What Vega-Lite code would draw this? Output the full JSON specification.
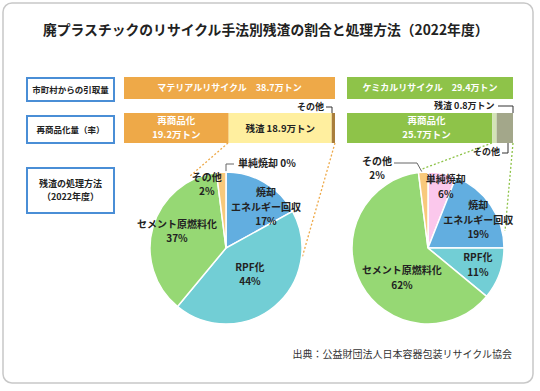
{
  "$schema": "https://vega.github.io/schema/vega-lite/v6.json",
  "width": 530,
  "height": 380,
  "autosize": {"type": "none"},
  "padding": {"left": 3, "top": 3, "right": 7, "bottom": 8},
  "background": "#ffffff",
  "title": {"text": "廃プラスチックのリサイクル手法別残渣の割合と処理方法（2022年度）", "anchor": "start", "frame": "group", "orient": "top", "offset": -35, "dx": 40, "fontSize": 13.8, "fontWeight": "bold", "color": "#222222", "font": "Noto Sans CJK JP"},
  "config": {
    "font": "Noto Sans CJK JP",
    "view": {"stroke": "#c8c8c8", "strokeWidth": 1.5, "cornerRadius": 9, "fill": "#ffffff"}
  },
  "resolve": {"scale": {"x": "independent", "y": "independent", "color": "independent", "theta": "independent"}},
  "layer": [
    {
      "data": {"values": [{"label": "市町村からの引取量"}]},
      "encoding": {
        "x": {"field": "label", "type": "nominal", "scale": {"range": [24, 111], "paddingInner": 0, "paddingOuter": 0}, "axis": null},
        "y": {"field": "label", "type": "nominal", "scale": {"range": [75, 98], "paddingInner": 0, "paddingOuter": 0}, "axis": null}
      },
      "layer": [
        {"mark": {"type": "rect", "fill": "#ffffff", "stroke": "#4a8ed6", "strokeWidth": 2}},
        {"mark": {"type": "text", "fontSize": 8.5, "fontWeight": "bold", "color": "#222222"}, "encoding": {"text": {"field": "label"}}}
      ]
    },
    {
      "data": {"values": [{"label": "再商品化量（率）"}]},
      "encoding": {
        "x": {"field": "label", "type": "nominal", "scale": {"range": [24, 111], "paddingInner": 0, "paddingOuter": 0}, "axis": null},
        "y": {"field": "label", "type": "nominal", "scale": {"range": [113, 140], "paddingInner": 0, "paddingOuter": 0}, "axis": null}
      },
      "layer": [
        {"mark": {"type": "rect", "fill": "#ffffff", "stroke": "#4a8ed6", "strokeWidth": 2}},
        {"mark": {"type": "text", "fontSize": 8.5, "fontWeight": "bold", "color": "#222222"}, "encoding": {"text": {"field": "label"}}}
      ]
    },
    {
      "data": {"values": [{"label": "残渣の処理方法\n（2022年度）"}]},
      "encoding": {
        "x": {"field": "label", "type": "nominal", "scale": {"range": [24, 111], "paddingInner": 0, "paddingOuter": 0}, "axis": null},
        "y": {"field": "label", "type": "nominal", "scale": {"range": [165, 210], "paddingInner": 0, "paddingOuter": 0}, "axis": null}
      },
      "layer": [
        {"mark": {"type": "rect", "fill": "#ffffff", "stroke": "#4a8ed6", "strokeWidth": 2}},
        {"mark": {"type": "text", "fontSize": 9, "fontWeight": "bold", "color": "#222222", "lineBreak": "\n", "lineHeight": 13.5, "dy": -6.75}, "encoding": {"text": {"field": "label"}}}
      ]
    },
    {
      "data": {"values": [{"method": "マテリアルリサイクル", "row": "市町村からの引取量", "amount": 38.7, "label": "マテリアルリサイクル　38.7万トン"}]},
      "transform": [{"stack": "amount", "groupby": ["row"], "as": ["a0", "a1"]}],
      "encoding": {
        "y": {"field": "row", "type": "nominal", "scale": {"range": [74, 96], "paddingInner": 0, "paddingOuter": 0}, "axis": null},
        "x": {"field": "a0", "type": "quantitative", "scale": {"domain": [0, 38.7], "range": [121, 332]}, "axis": null}
      },
      "layer": [
        {"mark": {"type": "bar", "color": "#eea948"}, "encoding": {"x2": {"field": "a1"}}},
        {
          "transform": [{"fold": ["a0", "a1"], "as": ["edge", "pos"]}, {"aggregate": [{"op": "mean", "field": "pos", "as": "mid"}], "groupby": ["row", "label"]}],
          "mark": {"type": "text", "color": "#ffffff", "fontSize": 9, "fontWeight": "bold"},
          "encoding": {"x": {"field": "mid", "type": "quantitative"}, "text": {"field": "label"}}
        }
      ]
    },
    {
      "data": {"values": [{"method": "ケミカルリサイクル", "row": "市町村からの引取量", "amount": 29.4, "label": "ケミカルリサイクル　29.4万トン"}]},
      "transform": [{"stack": "amount", "groupby": ["row"], "as": ["a0", "a1"]}],
      "encoding": {
        "y": {"field": "row", "type": "nominal", "scale": {"range": [74, 96], "paddingInner": 0, "paddingOuter": 0}, "axis": null},
        "x": {"field": "a0", "type": "quantitative", "scale": {"domain": [0, 29.4], "range": [344, 510]}, "axis": null}
      },
      "layer": [
        {"mark": {"type": "bar", "color": "#8ec349"}, "encoding": {"x2": {"field": "a1"}}},
        {
          "transform": [{"fold": ["a0", "a1"], "as": ["edge", "pos"]}, {"aggregate": [{"op": "mean", "field": "pos", "as": "mid"}], "groupby": ["row", "label"]}],
          "mark": {"type": "text", "color": "#ffffff", "fontSize": 9, "fontWeight": "bold"},
          "encoding": {"x": {"field": "mid", "type": "quantitative"}, "text": {"field": "label"}}
        }
      ]
    },
    {
      "data": {"values": [
        {"method": "マテリアルリサイクル", "row": "再商品化量（率）", "item": "再商品化", "order": 1, "amount": 19.2, "label": "再商品化\n19.2万トン"},
        {"method": "マテリアルリサイクル", "row": "再商品化量（率）", "item": "残渣", "order": 2, "amount": 18.9, "label": "残渣  18.9万トン"},
        {"method": "マテリアルリサイクル", "row": "再商品化量（率）", "item": "その他", "order": 3, "amount": 0.6, "label": "その他"}
      ]},
      "transform": [{"stack": "amount", "groupby": ["row"], "sort": [{"field": "order", "order": "ascending"}], "as": ["a0", "a1"]}],
      "encoding": {
        "y": {"field": "row", "type": "nominal", "scale": {"range": [110, 140], "paddingInner": 0, "paddingOuter": 0}, "axis": null},
        "x": {"field": "a0", "type": "quantitative", "scale": {"domain": [0, 38.7], "range": [121, 332]}, "axis": null}
      },
      "layer": [
        {"mark": {"type": "bar"}, "encoding": {"x2": {"field": "a1"}, "color": {"field": "item", "type": "nominal", "scale": {"domain": ["再商品化", "残渣", "その他"], "range": ["#eea948", "#ffef9f", "#a97e3c"]}, "legend": null}}},
        {
          "transform": [{"filter": "datum.item !== 'その他'"}, {"fold": ["a0", "a1"], "as": ["edge", "pos"]}, {"aggregate": [{"op": "mean", "field": "pos", "as": "mid"}], "groupby": ["row", "item", "label"]}],
          "encoding": {"x": {"field": "mid", "type": "quantitative"}, "text": {"field": "label"}},
          "layer": [
            {"transform": [{"filter": "datum.item === '再商品化'"}], "mark": {"type": "text", "color": "#ffffff", "fontSize": 9.5, "fontWeight": "bold", "lineBreak": "\n", "lineHeight": 14, "dy": -7}},
            {"transform": [{"filter": "datum.item === '残渣'"}], "mark": {"type": "text", "color": "#222222", "fontSize": 9.5, "fontWeight": "bold", "dy": 1}}
          ]
        },
        {"transform": [{"filter": "datum.item === 'その他'"}], "mark": {"type": "text", "align": "right", "dx": -11, "dy": -21, "color": "#222222", "fontSize": 9, "fontWeight": "bold"}, "encoding": {"x": {"field": "a1", "type": "quantitative"}, "text": {"field": "label"}}},
        {"transform": [{"filter": "datum.item === 'その他'"}], "mark": {"type": "rule", "color": "#333333", "strokeWidth": 1, "xOffset": -9, "x2Offset": -3, "yOffset": -21}, "encoding": {"x": {"field": "a1", "type": "quantitative"}, "x2": {"field": "a1"}}},
        {"transform": [{"filter": "datum.item === 'その他'"}], "mark": {"type": "rule", "color": "#333333", "strokeWidth": 1, "xOffset": -3, "yOffset": -21, "y2Offset": -15}, "encoding": {"x": {"field": "a1", "type": "quantitative"}, "y2": {"field": "row"}}}
      ]
    },
    {
      "data": {"values": [
        {"method": "ケミカルリサイクル", "row": "再商品化量（率）", "item": "再商品化", "order": 1, "amount": 25.7, "label": "再商品化\n25.7万トン"},
        {"method": "ケミカルリサイクル", "row": "再商品化量（率）", "item": "残渣", "order": 2, "amount": 0.8, "label": "残渣 0.8万トン"},
        {"method": "ケミカルリサイクル", "row": "再商品化量（率）", "item": "その他", "order": 3, "amount": 2.9, "label": "その他"}
      ]},
      "transform": [{"stack": "amount", "groupby": ["row"], "sort": [{"field": "order", "order": "ascending"}], "as": ["a0", "a1"]}],
      "encoding": {
        "y": {"field": "row", "type": "nominal", "scale": {"range": [110, 140], "paddingInner": 0, "paddingOuter": 0}, "axis": null},
        "x": {"field": "a0", "type": "quantitative", "scale": {"domain": [0, 29.4], "range": [344, 510]}, "axis": null}
      },
      "layer": [
        {"mark": {"type": "bar"}, "encoding": {"x2": {"field": "a1"}, "color": {"field": "item", "type": "nominal", "scale": {"domain": ["再商品化", "残渣", "その他"], "range": ["#8ec349", "#d3e3b6", "#a3a78a"]}, "legend": null}}},
        {
          "transform": [{"filter": "datum.item === '再商品化'"}, {"fold": ["a0", "a1"], "as": ["edge", "pos"]}, {"aggregate": [{"op": "mean", "field": "pos", "as": "mid"}], "groupby": ["row", "item", "label"]}],
          "mark": {"type": "text", "color": "#ffffff", "fontSize": 9.5, "fontWeight": "bold", "lineBreak": "\n", "lineHeight": 14, "dx": 7, "dy": -7},
          "encoding": {"x": {"field": "mid", "type": "quantitative"}, "text": {"field": "label"}}
        },
        {"transform": [{"filter": "datum.item === '残渣'"}], "mark": {"type": "text", "align": "right", "dx": -2, "dy": -22, "color": "#222222", "fontSize": 9, "fontWeight": "bold"}, "encoding": {"x": {"field": "a1", "type": "quantitative"}, "text": {"field": "label"}}},
        {"transform": [{"filter": "datum.item === 'その他'"}], "mark": {"type": "rule", "color": "#333333", "strokeWidth": 1, "xOffset": -15, "x2Offset": 0, "yOffset": -22}, "encoding": {"x": {"field": "a1", "type": "quantitative"}, "x2": {"field": "a1"}}},
        {"transform": [{"filter": "datum.item === 'その他'"}], "mark": {"type": "rule", "color": "#333333", "strokeWidth": 1, "xOffset": 0, "yOffset": -22, "y2Offset": -15}, "encoding": {"x": {"field": "a1", "type": "quantitative"}, "y2": {"field": "row"}}},
        {"transform": [{"filter": "datum.item === 'その他'"}], "mark": {"type": "text", "align": "right", "dx": -13, "dy": 24, "color": "#222222", "fontSize": 9, "fontWeight": "bold"}, "encoding": {"x": {"field": "a1", "type": "quantitative"}, "text": {"field": "label"}}},
        {"transform": [{"filter": "datum.item === 'その他'"}], "mark": {"type": "rule", "color": "#333333", "strokeWidth": 1, "xOffset": -11, "x2Offset": -5, "yOffset": 25}, "encoding": {"x": {"field": "a1", "type": "quantitative"}, "x2": {"field": "a1"}}},
        {"transform": [{"filter": "datum.item === 'その他'"}], "mark": {"type": "rule", "color": "#333333", "strokeWidth": 1, "xOffset": -5, "yOffset": 15, "y2Offset": 25}, "encoding": {"x": {"field": "a1", "type": "quantitative"}, "y2": {"field": "row"}}}
      ]
    },
    {
      "data": {"values": [
        {"method": "マテリアルリサイクル", "section": "残渣の処理方法", "item": "単純焼却", "order": 1, "share": 0, "label": "単純焼却 0%"},
        {"method": "マテリアルリサイクル", "section": "残渣の処理方法", "item": "焼却エネルギー回収", "order": 2, "share": 17, "label": "焼却\nエネルギー回収\n17%"},
        {"method": "マテリアルリサイクル", "section": "残渣の処理方法", "item": "RPF化", "order": 3, "share": 44, "label": "RPF化\n44%"},
        {"method": "マテリアルリサイクル", "section": "残渣の処理方法", "item": "セメント原燃料化", "order": 4, "share": 37, "label": "セメント原燃料化\n37%"},
        {"method": "マテリアルリサイクル", "section": "残渣の処理方法", "item": "その他", "order": 5, "share": 2, "label": "その他\n2%"}
      ]},
      "transform": [{"stack": "share", "groupby": ["method"], "sort": [{"field": "order", "order": "ascending"}], "as": ["s0", "s1"]}],
      "encoding": {
        "x": {"field": "method", "type": "nominal", "scale": {"type": "point", "domain": ["マテリアルリサイクル", "ケミカルリサイクル"], "range": [223, 425], "padding": 0}, "axis": null},
        "y": {"field": "section", "type": "nominal", "scale": {"type": "point", "range": [235, 255]}, "axis": null}
      },
      "layer": [
        {"transform": [{"filter": "datum.order === 1"}], "mark": {"type": "rule", "color": "#eea948", "strokeWidth": 1.3, "strokeDash": [2, 2], "xOffset": 2, "yOffset": -105, "x2Offset": -37, "y2Offset": -71}, "encoding": {"x2": {"field": "method"}, "y2": {"field": "section"}}},
        {"transform": [{"filter": "datum.order === 1"}], "mark": {"type": "rule", "color": "#eea948", "strokeWidth": 1.3, "strokeDash": [2, 2], "xOffset": 109, "yOffset": -105, "x2Offset": 76, "y2Offset": 10}, "encoding": {"x2": {"field": "method"}, "y2": {"field": "section"}}},
        {"transform": [{"filter": "datum.order === 1"}], "mark": {"type": "rule", "color": "#666666", "strokeWidth": 1, "yOffset": -76, "y2Offset": -84}, "encoding": {"y2": {"field": "section"}}},
        {"transform": [{"filter": "datum.order === 1"}], "mark": {"type": "rule", "color": "#666666", "strokeWidth": 1, "yOffset": -84, "x2Offset": 8}, "encoding": {"x2": {"field": "method"}}},
        {"mark": {"type": "arc", "outerRadius": 76, "stroke": "#ffffff", "strokeWidth": 1.5}, "encoding": {"theta": {"field": "s0", "type": "quantitative", "scale": {"domain": [0, 100]}}, "theta2": {"field": "s1"}, "color": {"field": "item", "type": "nominal", "scale": {"domain": ["単純焼却", "焼却エネルギー回収", "RPF化", "セメント原燃料化", "その他"], "range": ["#fbc8ec", "#62aee0", "#72ced5", "#96d874", "#f8c97c"]}, "legend": null}}},
        {
          "transform": [{"fold": ["s0", "s1"], "as": ["edge", "pos"]}, {"aggregate": [{"op": "mean", "field": "pos", "as": "mid"}], "groupby": ["method", "section", "item", "label"]}],
          "encoding": {"theta": {"field": "mid", "type": "quantitative", "scale": {"domain": [0, 100]}}, "text": {"field": "label"}},
          "layer": [
            {"transform": [{"filter": "datum.item === '焼却エネルギー回収'"}], "mark": {"type": "text", "radius": 57, "dx": 11, "dy": -5.5, "fontSize": 10, "fontWeight": "bold", "lineBreak": "\n", "lineHeight": 14.5, "color": "#222222"}},
            {"transform": [{"filter": "datum.item === 'RPF化'"}], "mark": {"type": "text", "radius": 36, "dx": 1, "dy": -8, "fontSize": 10, "fontWeight": "bold", "lineBreak": "\n", "lineHeight": 14.5, "color": "#222222"}},
            {"transform": [{"filter": "datum.item === 'セメント原燃料化'"}], "mark": {"type": "text", "radius": 51, "dx": 0, "dy": -9, "fontSize": 10, "fontWeight": "bold", "lineBreak": "\n", "lineHeight": 14.5, "color": "#222222"}},
            {"transform": [{"filter": "datum.item === 'その他'"}], "mark": {"type": "text", "radius": 66, "dx": -15, "dy": -4.5, "fontSize": 10, "fontWeight": "bold", "lineBreak": "\n", "lineHeight": 14.5, "color": "#222222"}},
            {"transform": [{"filter": "datum.item === '単純焼却'"}], "mark": {"type": "text", "radius": 84, "dx": 12, "dy": 0, "align": "left", "fontSize": 10, "fontWeight": "bold", "color": "#222222"}}
          ]
        }
      ]
    },
    {
      "data": {"values": [
        {"method": "ケミカルリサイクル", "section": "残渣の処理方法", "item": "単純焼却", "order": 1, "share": 6, "label": "単純焼却\n6%"},
        {"method": "ケミカルリサイクル", "section": "残渣の処理方法", "item": "焼却エネルギー回収", "order": 2, "share": 19, "label": "焼却\nエネルギー回収\n19%"},
        {"method": "ケミカルリサイクル", "section": "残渣の処理方法", "item": "RPF化", "order": 3, "share": 11, "label": "RPF化\n11%"},
        {"method": "ケミカルリサイクル", "section": "残渣の処理方法", "item": "セメント原燃料化", "order": 4, "share": 62, "label": "セメント原燃料化\n62%"},
        {"method": "ケミカルリサイクル", "section": "残渣の処理方法", "item": "その他", "order": 5, "share": 2, "label": "その他\n2%"}
      ]},
      "transform": [{"stack": "share", "groupby": ["method"], "sort": [{"field": "order", "order": "ascending"}], "as": ["s0", "s1"]}],
      "encoding": {
        "x": {"field": "method", "type": "nominal", "scale": {"type": "point", "domain": ["マテリアルリサイクル", "ケミカルリサイクル"], "range": [223, 425], "padding": 0}, "axis": null},
        "y": {"field": "section", "type": "nominal", "scale": {"type": "point", "range": [235, 255]}, "axis": null}
      },
      "layer": [
        {"transform": [{"filter": "datum.order === 1"}], "mark": {"type": "rule", "color": "#8ec349", "strokeWidth": 1.3, "strokeDash": [2, 2], "xOffset": 64, "yOffset": -105, "x2Offset": -6, "y2Offset": -79}, "encoding": {"x2": {"field": "method"}, "y2": {"field": "section"}}},
        {"transform": [{"filter": "datum.order === 1"}], "mark": {"type": "rule", "color": "#8ec349", "strokeWidth": 1.3, "strokeDash": [2, 2], "xOffset": 85, "yOffset": -105, "x2Offset": 77, "y2Offset": -17}, "encoding": {"x2": {"field": "method"}, "y2": {"field": "section"}}},
        {"transform": [{"filter": "datum.order === 1"}], "mark": {"type": "rule", "color": "#666666", "strokeWidth": 1, "xOffset": -34, "x2Offset": -11, "yOffset": -85}, "encoding": {"x2": {"field": "method"}}},
        {"transform": [{"filter": "datum.order === 1"}], "mark": {"type": "rule", "color": "#666666", "strokeWidth": 1, "xOffset": -11, "yOffset": -85, "x2Offset": -6, "y2Offset": -76}, "encoding": {"x2": {"field": "method"}, "y2": {"field": "section"}}},
        {"mark": {"type": "arc", "outerRadius": 76, "stroke": "#ffffff", "strokeWidth": 1.5}, "encoding": {"theta": {"field": "s0", "type": "quantitative", "scale": {"domain": [0, 100]}}, "theta2": {"field": "s1"}, "color": {"field": "item", "type": "nominal", "scale": {"domain": ["単純焼却", "焼却エネルギー回収", "RPF化", "セメント原燃料化", "その他"], "range": ["#fbc8ec", "#62aee0", "#72ced5", "#96d874", "#f8c97c"]}, "legend": null}}},
        {
          "transform": [{"fold": ["s0", "s1"], "as": ["edge", "pos"]}, {"aggregate": [{"op": "mean", "field": "pos", "as": "mid"}], "groupby": ["method", "section", "item", "label"]}],
          "encoding": {"theta": {"field": "mid", "type": "quantitative", "scale": {"domain": [0, 100]}}, "text": {"field": "label"}},
          "layer": [
            {"transform": [{"filter": "datum.item === '単純焼却'"}], "mark": {"type": "text", "radius": 63, "dx": 6, "dy": -6, "fontSize": 10, "fontWeight": "bold", "lineBreak": "\n", "lineHeight": 14.5, "color": "#222222"}},
            {"transform": [{"filter": "datum.item === '焼却エネルギー回収'"}], "mark": {"type": "text", "radius": 57, "dx": 3, "dy": -9.5, "fontSize": 10, "fontWeight": "bold", "lineBreak": "\n", "lineHeight": 14.5, "color": "#222222"}},
            {"transform": [{"filter": "datum.item === 'RPF化'"}], "mark": {"type": "text", "radius": 53, "dx": 0, "dy": -7.5, "fontSize": 10, "fontWeight": "bold", "lineBreak": "\n", "lineHeight": 14.5, "color": "#222222"}},
            {"transform": [{"filter": "datum.item === 'セメント原燃料化'"}], "mark": {"type": "text", "radius": 40, "dx": 9, "dy": 4, "fontSize": 10, "fontWeight": "bold", "lineBreak": "\n", "lineHeight": 14.5, "color": "#222222"}},
            {"transform": [{"filter": "datum.item === 'その他'"}], "mark": {"type": "text", "radius": 79, "dx": -46, "dy": -7.5, "fontSize": 10, "fontWeight": "bold", "lineBreak": "\n", "lineHeight": 14.5, "color": "#222222"}}
          ]
        }
      ]
    },
    {
      "data": {"values": [{"source": "出典：公益財団法人日本容器包装リサイクル協会"}]},
      "mark": {"type": "text", "align": "right", "fontSize": 10, "color": "#333333"},
      "encoding": {
        "x": {"field": "source", "type": "nominal", "scale": {"type": "point", "range": [500, 518]}, "axis": null},
        "y": {"field": "source", "type": "nominal", "scale": {"type": "point", "range": [344, 360]}, "axis": null},
        "text": {"field": "source"}
      }
    }
  ]
}
